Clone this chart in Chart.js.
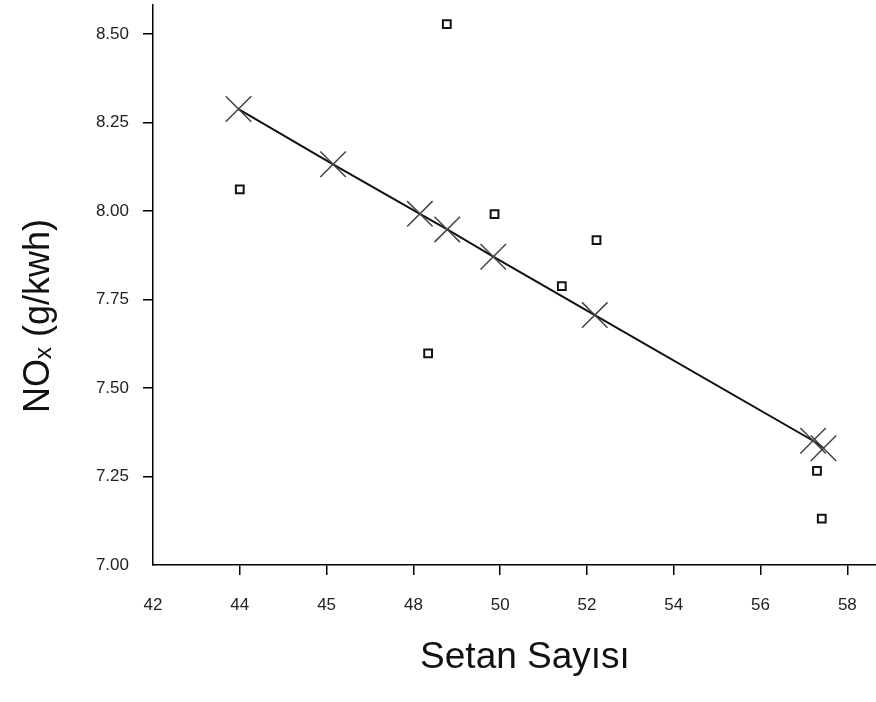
<!DOCTYPE html>
<html>
<head>
<meta charset="utf-8">
<script src="https://cdn.jsdelivr.net/npm/chart.js@4/dist/chart.umd.min.js"></script>
<style>
    html, body { margin: 0; padding: 0; background: #fff; }
</style>
</head>
<body>
<canvas id="chart" width="876" height="702"></canvas>
<script>
'use strict';

// Points on the fitted line (cross markers):
var fitX = [43.97, 46.15, 48.15, 48.78, 49.84, 52.18, 57.21, 57.45];
var fitY = [8.288, 8.132, 7.992, 7.948, 7.871, 7.706, 7.351, 7.330];

// Measured points (square markers):
var measX = [44.00, 48.77, 49.87, 51.42, 52.22, 48.34, 57.30, 57.41];
var measY = [8.061, 8.528, 7.991, 7.788, 7.918, 7.598, 7.266, 7.131];

// Tick values and labels (the original axis prints "45" where 46 sits):
var xTickValues = [42, 44, 46, 48, 50, 52, 54, 56, 58];
var xTickLabels = ['42', '44', '45', '48', '50', '52', '54', '56', '58'];
var yTickValues = [7.00, 7.25, 7.50, 7.75, 8.00, 8.25, 8.50];

var xTitle = 'Setan Sayısı';
var yTitle = 'NOₓ (g/kwh)';

var toPoints = function (xs, ys) {
    return xs.map(function (x, i) { return { x: x, y: ys[i] }; });
};

var fontFamily = "'Liberation Sans', Arial, 'DejaVu Sans', sans-serif";

// Hide the tick mark at the axis corner:
var tickColor = function (ctx) {
    return ctx.index === 0 ? 'rgba(0,0,0,0)' : '#000';
};

// Let the axes run right to the canvas edges (no label overflow padding):
var noEdgePadding = function (scale) {
    scale.paddingTop = 0;
    scale.paddingBottom = 0;
    scale.paddingLeft = 0;
    scale.paddingRight = 0;
};

// Axis titles, placed where the original puts them:
var axisTitles = {
    id: 'axisTitles',
    afterDraw: function (chart) {
        var c = chart.ctx;
        c.save();
        c.fillStyle = '#111';
        c.textAlign = 'center';
        c.textBaseline = 'alphabetic';
        c.font = '37px ' + fontFamily;
        c.fillText(xTitle, 525, 668);
        c.translate(49, 316);
        c.rotate(-Math.PI / 2);
        c.font = '36px ' + fontFamily;
        c.fillText(yTitle, 0, 0);
        c.restore();
    }
};

var ctx = document.getElementById('chart').getContext('2d');
var chart = new Chart(ctx, {
    type: 'scatter',
    data: {
        datasets: [{
            label: 'Fit',
            data: toPoints(fitX, fitY),
            showLine: true,
            borderColor: '#111',
            borderWidth: 2,
            pointStyle: 'crossRot',
            pointRadius: 18,
            pointBorderColor: '#444',
            pointBorderWidth: 1.5,
            pointBackgroundColor: 'rgba(0,0,0,0)'
        }, {
            label: 'Measured',
            data: toPoints(measX, measY),
            showLine: false,
            pointStyle: 'rect',
            pointRadius: 5.5,
            pointBorderColor: '#111',
            pointBorderWidth: 2,
            pointBackgroundColor: '#fff'
        }]
    },
    options: {
        responsive: false,
        animation: false,
        devicePixelRatio: 1,
        layout: {
            autoPadding: false,
            padding: { top: 5, right: 0, left: 0, bottom: 0 }
        },
        plugins: {
            legend: { display: false },
            tooltip: { enabled: false }
        },
        scales: {
            x: {
                type: 'linear',
                min: 42,
                max: 58.66,
                afterFit: function (scale) {
                    scale.height = 137;
                    noEdgePadding(scale);
                },
                afterBuildTicks: function (scale) {
                    scale.ticks = xTickValues.map(function (v) { return { value: v }; });
                },
                ticks: {
                    color: '#222',
                    padding: 20,
                    maxRotation: 0,
                    autoSkip: false,
                    font: { family: fontFamily, size: 17 },
                    callback: function (value) {
                        var i = xTickValues.indexOf(value);
                        return i >= 0 ? xTickLabels[i] : '';
                    }
                },
                grid: {
                    drawOnChartArea: false,
                    tickLength: 10,
                    lineWidth: 1.5,
                    color: tickColor
                },
                border: { display: true, color: '#000', width: 1.5 }
            },
            y: {
                type: 'linear',
                min: 7.0,
                max: 8.582,
                afterFit: function (scale) {
                    scale.width = 153;
                    noEdgePadding(scale);
                },
                afterBuildTicks: function (scale) {
                    scale.ticks = yTickValues.map(function (v) { return { value: v }; });
                },
                ticks: {
                    color: '#222',
                    padding: 14,
                    font: { family: fontFamily, size: 17 },
                    callback: function (value) { return value.toFixed(2); }
                },
                grid: {
                    drawOnChartArea: false,
                    tickLength: 10,
                    lineWidth: 1.5,
                    color: tickColor
                },
                border: { display: true, color: '#000', width: 1.5 }
            }
        }
    },
    plugins: [axisTitles]
});
</script>
</body>
</html>
